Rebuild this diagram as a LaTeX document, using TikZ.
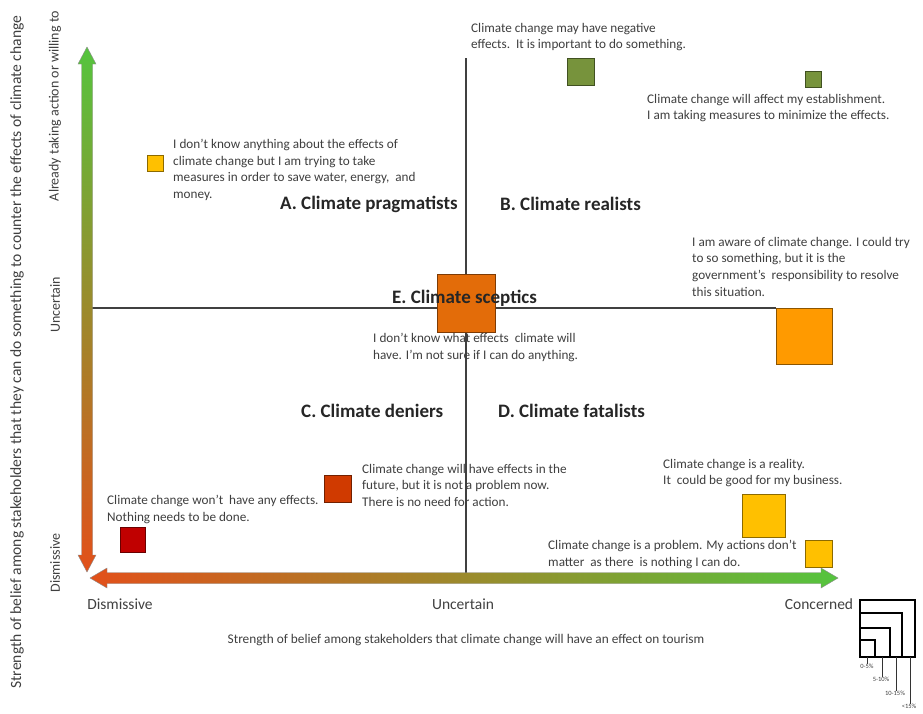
\documentclass[tikz,border=0pt]{standalone}
\usepackage{fontspec}
\setmainfont{Carlito}
\definecolor{txt}{HTML}{3F3F3F}
\definecolor{lbl}{HTML}{262626}
\definecolor{axl}{HTML}{404040}
\definecolor{cgreen}{HTML}{77933C}
\definecolor{cyellow}{HTML}{FFC000}
\definecolor{corange}{HTML}{E36C09}
\definecolor{corange2}{HTML}{FF9A00}
\definecolor{cred}{HTML}{C00000}
\definecolor{cred2}{HTML}{D03A00}
\definecolor{agreen}{HTML}{55C43E}
\definecolor{amid}{HTML}{D4A12A}
\definecolor{ared}{HTML}{E2501A}
\begin{document}
\begin{tikzpicture}[x=1pt,y=-1pt,
  body/.style={font=\fontsize{13.2}{16.6}\selectfont, text=txt, align=left, anchor=north west, inner sep=0pt},
  quad/.style={font=\fontsize{19}{22}\selectfont\bfseries, text=lbl, anchor=west, inner sep=0pt},
  axlab/.style={font=\fontsize{15.5}{18}\selectfont, text=axl, inner sep=0pt},
  sq/.style={fill=#1, draw=#1!55!black, line width=1pt, inner sep=0pt, outer sep=0pt},
  guide/.style={draw=axl, line width=1.1pt},
  legsq/.style={draw=black, line width=1.3pt},
  legtxt/.style={font=\fontsize{6.5}{7}\selectfont, text=axl, inner sep=0pt, anchor=north},
]
\useasboundingbox (0,0) rectangle (923,713);
\fill[white] (0,0) rectangle (923,713);

% guide lines
\coordinate (hlL) at (90,308);
\coordinate (hlR) at (776,308);
\coordinate (vlT) at (466,58);
\coordinate (vlB) at (466,578);
\draw[guide] (hlL) -- (hlR);
\draw[guide] (vlT) -- (vlB);

% vertical gradient arrow
\shade[top color=agreen, middle color=amid, bottom color=ared, draw=black!45, line width=0.4pt]
  (87,47) -- (96,64) -- (92.5,64) -- (92.5,555) -- (96,555) -- (87,572) -- (78,555) -- (81.5,555)
  -- (81.5,64) -- (78,64) -- cycle;
% horizontal gradient arrow
\shade[left color=ared, middle color=amid, right color=agreen, draw=black!45, line width=0.4pt]
  (90,578) -- (107,568) -- (107,572.5) -- (821,572.5) -- (821,568) -- (838,578) -- (821,588)
  -- (821,583.5) -- (107,583.5) -- (107,588) -- cycle;

% squares
\node[sq=cgreen, minimum size=27pt] (g1) at (581,71.5) {};
\node[sq=cgreen, minimum size=16pt] (g2) at (813,79) {};
\node[sq=cyellow, minimum size=16pt] (y1) at (155,163) {};
\node[sq=corange, minimum size=58pt] (o1) at (466.5,303.5) {};
\node[sq=corange2, minimum size=56pt] (o2) at (804,336) {};
\node[sq=cred, minimum size=25pt] (r1) at (132.5,539.5) {};
\node[sq=cred2, minimum size=27pt] (r2) at (337.5,488.5) {};
\node[sq=cyellow, minimum size=43pt] (y2) at (763.5,515.5) {};
\node[sq=cyellow, minimum size=27pt] (y3) at (819,553.5) {};

% quadrant labels
\node[quad] (qa) at (280,204) {A. Climate pragmatists};
\node[quad] (qb) at (500,204) {B. Climate realists};
\node[quad] (qe) at (392,298) {E. Climate sceptics};
\node[quad] (qc) at (301,411) {C. Climate deniers};
\node[quad] (qd) at (498,411) {D. Climate fatalists};

% statements
\node[body] (t1) at (471,23) {Climate change may have negative\\effects.\ \ It is important to do something.};
\node[body] (t2) at (647,94) {Climate change will affect my establishment.\\I am taking measures to minimize the effects.};
\node[body] (t3) at (173,139) {I don’t know anything about the effects of\\climate change but I am trying to take\\measures in order to save water, energy,\ \ and\\money.};
\node[body] (t4) at (692,237) {I am aware of climate change. I could try\\to so something, but it is the\\government’s\ \ responsibility to resolve\\this situation.};
\node[body] (t5) at (373,333) {I don’t know what effects\ \ climate will\\have. I’m not sure if I can do anything.};
\node[body] (t8) at (663,459) {Climate change is a reality.\\It\ \ could be good for my business.};
\node[body] (t6) at (362,464) {Climate change will have effects in the\\future, but it is not a problem now.\\There is no need for action.};
\node[body] (t7) at (107,495) {Climate change won’t\ \ have any effects.\\Nothing needs to be done.};
\node[body] (t9) at (548,540) {Climate change is a problem. My actions don’t\\matter\ \ as there\ \ is nothing I can do.};

% axis labels
\node[axlab] (xl1) at (120,604) {Dismissive};
\node[axlab] (xl2) at (463,604) {Uncertain};
\node[axlab] (xl3) at (819,604) {Concerned};
\node[axlab, font=\fontsize{13.3}{15}\selectfont] (xt) at (466,640) {Strength of belief among stakeholders that climate change will have an effect on tourism};
\node[axlab, font=\fontsize{14}{16}\selectfont, rotate=90] (yl1) at (55,106) {Already taking action or willing to};
\node[axlab, font=\fontsize{14}{16}\selectfont, rotate=90] (yl2) at (55,305) {Uncertain};
\node[axlab, font=\fontsize{14}{16}\selectfont, rotate=90] (yl3) at (55,563) {Dismissive};
\node[axlab, font=\fontsize{15.6}{18}\selectfont, rotate=90] (yt) at (17,352) {Strength of belief among stakeholders that they can do something to counter the effects of climate change};

% legend
\draw[legsq] (860,600) rectangle (915,657);
\draw[legsq] (860,613) -- (902,613) -- (902,657);
\draw[legsq] (860,628) -- (890,628) -- (890,657);
\draw[legsq] (860,640) -- (875,640) -- (875,657);
\node[legtxt] (lg1) at (867,664) {0-5\%};
\node[legtxt] (lg2) at (881,677) {5-10\%};
\node[legtxt] (lg3) at (895,691) {10-15\%};
\node[legtxt] (lg4) at (909,704) {<15\%};
\coordinate (lc1) at (867,657);
\coordinate (lc2) at (882,657);
\coordinate (lc3) at (896,657);
\coordinate (lc4) at (910,657);
\draw[black!80, line width=0.8pt] (lc1) -- (lg1.north -| lc1);
\draw[black!80, line width=0.8pt] (lc2) -- (lg2.north -| lc2);
\draw[black!80, line width=0.8pt] (lc3) -- (lg3.north -| lc3);
\draw[black!80, line width=0.8pt] (lc4) -- (lg4.north -| lc4);
\end{tikzpicture}
\end{document}
